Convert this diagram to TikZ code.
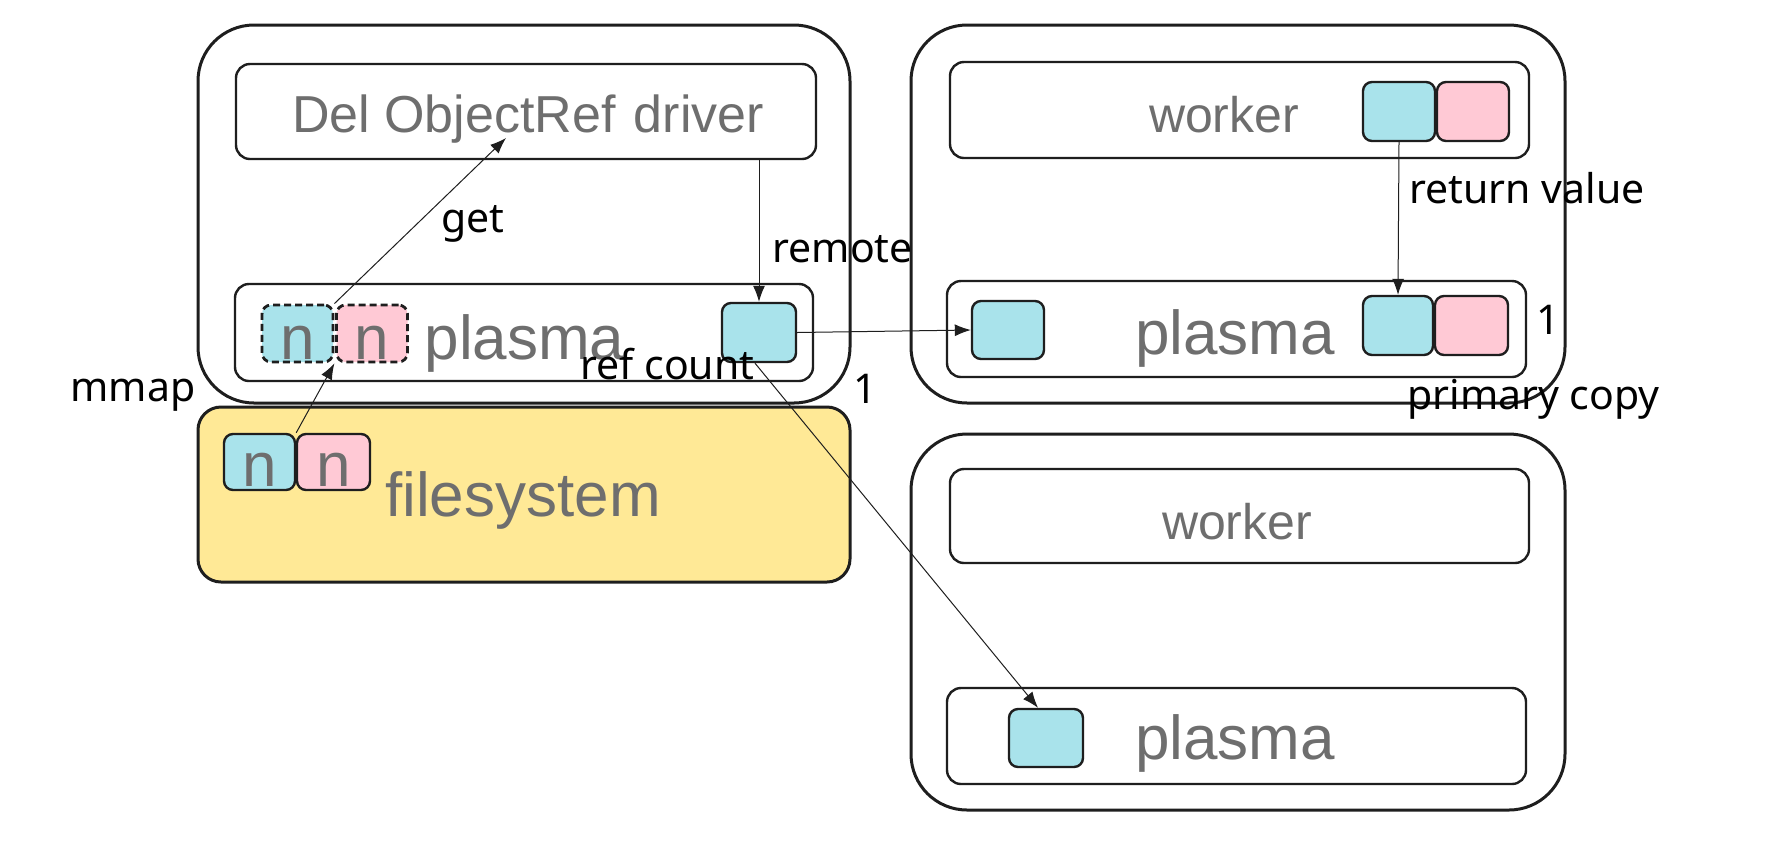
\documentclass[tikz,border=0pt]{standalone}
\usepackage{fontspec}
\setmainfont{Liberation Sans}
\newfontfamily\lblfont{Noto Sans}
\usetikzlibrary{arrows.meta}
\definecolor{cy}{RGB}{169,227,235}
\definecolor{pk}{RGB}{255,201,213}
\definecolor{ye}{RGB}{255,233,150}
\definecolor{tx}{RGB}{110,110,110}
\definecolor{ln}{RGB}{30,30,30}
\begin{document}
\begin{tikzpicture}[x=0.5pt,y=-0.5pt,
 outer/.style={draw=ln, line width=1.5pt, rounded corners=28pt, minimum width=326pt, minimum height=189pt, inner sep=0},
 innerbox/.style={draw=ln, line width=1.2pt, rounded corners=7pt, inner sep=0, minimum width=289.5pt, minimum height=48pt},
 cbox/.style={draw=ln, line width=1.2pt, rounded corners=4.5pt, fill=cy, minimum width=36pt, minimum height=29pt, inner sep=0},
 pbox/.style={cbox, fill=pk},
 dashbox/.style={line width=1.4pt, dash pattern=on 3.5pt off 2pt},
 btext/.style={text=tx, font=\fontsize{31pt}{31pt}\selectfont, anchor=base, inner sep=0},
 mtext/.style={text=tx, font=\fontsize{26pt}{26pt}\selectfont, anchor=base, inner sep=0},
 lbl/.style={font=\lblfont\fontsize{20.5pt}{20.5pt}\selectfont, anchor=base west, inner sep=0},
 arr/.style={draw=ln, line width=0.5pt, -{Latex[length=8pt,width=6pt]}}
]
\useasboundingbox[fill=white] (0,0) rectangle (1772,842);
% outer boxes
\node[outer] (outerL) at (524,214) {};
\node[outer, minimum width=327pt] (outerTR) at (1238,214) {};
\node[outer, minimum width=327pt, minimum height=188pt] (outerBR) at (1238,622) {};
\node[draw=ln, line width=1.5pt, rounded corners=11.5pt, fill=ye, minimum width=326pt, minimum height=87.5pt, inner sep=0] (fs) at (524,494.5) {};
% inner boxes
\node[innerbox, minimum width=290pt, minimum height=47.5pt] (driver) at (526,111.5) {};
\node[innerbox, minimum width=289pt, minimum height=48.5pt] (plasmaL) at (524,332.5) {};
\node[innerbox] (workerT) at (1239.5,110) {};
\node[innerbox] (plasmaR) at (1236.5,329) {};
\node[innerbox, minimum height=47pt] (workerB) at (1239.5,516) {};
\node[innerbox] (plasmaB) at (1236.5,736) {};
% small boxes
\node[cbox, dashbox, minimum width=35.5pt, minimum height=28.5pt] (nLc) at (297.5,333.5) {};
\node[pbox, dashbox, minimum width=35.5pt, minimum height=28.5pt] (nLp) at (372,333.5) {};
\node[cbox, minimum width=35.5pt, minimum height=28pt] (fsc) at (259.5,462) {};
\node[pbox, minimum width=36.5pt, minimum height=28pt] (fsp) at (333.5,462) {};
\node[cbox, minimum width=37pt, minimum height=29.5pt] (smallL) at (759,332.5) {};
\node[cbox] (smallR) at (1008,330) {};
\node[cbox, minimum height=29.5pt] (workCy) at (1399,111.5) {};
\node[pbox, minimum height=29.5pt] (workPk) at (1473,111.5) {};
\node[cbox, minimum width=35pt, minimum height=29.5pt] (plasCy) at (1398,325.5) {};
\node[pbox, minimum width=36.5pt, minimum height=29.5pt] (plasPk) at (1471.5,325.5) {};
\node[cbox, minimum width=37pt] (smallB) at (1046,738) {};
% texts
\node[mtext] (tdriver) at (528,132) {Del ObjectRef\hspace{0.35em}driver};
\node[btext] (tplL) at (524.5,359) {plasma};
\node[btext] (tplR) at (1235,354) {plasma};
\node[btext] (tplB) at (1235,759) {plasma};
\node[mtext, font=\fontsize{25pt}{25pt}\selectfont] (twT) at (1224,132) {worker};
\node[mtext, font=\fontsize{25pt}{25pt}\selectfont] (twB) at (1237,539) {worker};
\node[btext] (tfs) at (523,516) {filesystem};
\node[btext] (n1) at (297.5,359) {n};
\node[btext] (n2) at (372,359) {n};
\node[btext] (n3) at (259.5,486) {n};
\node[btext] (n4) at (333.5,486) {n};
% labels
\node[lbl] (lget) at (441,232) {get};
\node[lbl] (lremote) at (772,262) {remote};
\node[lbl] (lret) at (1409,203) {return value};
\node[lbl] (lprim) at (1407,409) {primary copy};
\node[lbl] (lref) at (580,379) {ref count};
\node[lbl] (lone) at (853,403) {1};
\node[lbl] (ltwo) at (1536,334) {1};
\node[lbl] (lmmap) at (70,401) {mmap};
% connectors
\coordinate (gettip) at (506,138);
\draw[arr] (nLc.north east) -- (gettip);
\draw[arr] (fsc.north east) -- (nLc.south east);
\draw[arr] (driver.south -| smallL.north) -- (smallL.north);
\draw[arr] (smallL.east) -- (smallR.west);
\draw[arr] ([xshift=-2pt]smallL.south) -- ([xshift=-4pt]smallB.north);
\draw[arr] (workCy.south) -- (plasCy.north);
\end{tikzpicture}
\end{document}
